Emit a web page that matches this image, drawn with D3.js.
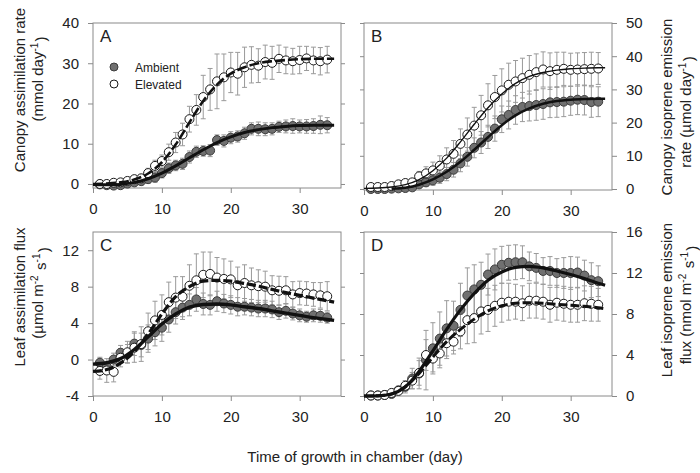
<!DOCTYPE html>
<html>
<head>
<meta charset="utf-8">
<script src="https://cdn.jsdelivr.net/npm/d3@7"></script>
<style>
  body { margin: 0; background: #fff; }
  svg { font-family: "Liberation Sans", Arial, sans-serif; }
</style>
</head>
<body>
<svg id="chart" width="700" height="473"></svg>
<script>
// ---- data ----
const days = [1,2,3,4,5,6,7,8,9,10,11,12,13,14,15,16,17,18,19,20,21,22,23,24,25,26,27,28,29,30,31,32,33,34];
const fitDays = [0,2,4,6,8,10,12,14,16,18,20,22,24,26,28,30,32,34,35];
const xTicks = [0,10,20,30];
const legendLabels = ["Ambient", "Elevated"];

// A - canopy assimilation rate (mmol day-1)
const canopyAssimAmb = [-0.1,-0.3,-0.4,-0.3,0.1,0.4,0.7,1.2,1.6,2.7,3.9,4.6,5.0,6.7,8.0,8.2,8.3,10.9,10.7,11.5,11.8,12.6,13.7,13.7,13.6,13.7,14.2,14.3,14.4,14.3,14.3,14.4,14.7,14.6];
const canopyAssimAmbSd = [0.2,0.3,0.4,0.5,0.6,0.8,0.9,1.0,1.2,1.2,1.3,1.3,1.4,1.5,1.4,1.3,1.5,1.3,1.5,1.5,1.4,1.5,1.5,1.7,1.6,1.5,1.4,1.6,1.8,1.6,1.7,1.8,2.2,1.9];
const canopyAssimElev = [0.0,0.0,0.3,0.4,0.75,1.2,1.4,2.7,4.5,5.7,7.9,10.3,12.3,16.1,18.4,21.6,23.5,25.5,26.5,27.7,27.4,29.0,29.6,29.4,30.3,30.1,31.1,30.7,30.5,30.8,31.2,30.7,30.5,30.9];
const canopyAssimElevSd = [0.3,0.4,0.6,0.7,0.8,0.9,1.0,1.2,1.4,1.5,2.0,2.5,2.8,3.2,3.8,5.4,5.2,6.8,5.8,5.0,5.3,5.0,4.5,4.2,4.2,4.1,3.4,3.3,3.2,3.4,3.0,3.3,3.4,3.3];
const canopyAssimAmbFit = [-0.1,-0.2,-0.1,0.4,1.3,2.7,4.5,6.5,8.5,10.3,11.7,12.8,13.5,14.0,14.3,14.5,14.6,14.6,14.6];
const canopyAssimElevFit = [0.0,0.1,0.4,1.1,2.6,5.4,9.8,15.3,20.6,24.7,27.4,29.0,30.0,30.5,30.8,31.0,31.1,31.1,31.1];

// B - canopy isoprene emission rate (umol day-1)
const canopyIsoAmb = [0.0,0.0,0.0,0.1,0.2,0.3,0.5,1.4,2.0,2.6,3.4,4.5,5.8,7.7,9.7,12.4,14.0,15.7,18.2,21.0,22.3,23.8,24.7,25.0,25.3,25.6,26.1,26.2,26.3,26.6,26.9,26.8,26.2,26.3];
const canopyIsoAmbSd = [0.1,0.1,0.1,0.2,0.3,0.4,0.6,0.9,1.2,1.5,1.7,2.0,2.2,2.5,2.8,3.0,3.3,3.5,3.8,4.0,4.2,4.3,4.4,4.5,4.6,4.6,4.6,4.6,4.5,4.4,4.5,4.5,4.6,4.5];
const canopyIsoElev = [0.6,0.6,0.6,0.9,1.4,1.8,2.0,3.8,4.7,5.6,7.0,8.9,10.6,13.6,16.4,19.1,22.2,25.2,27.7,29.7,31.4,32.4,33.4,34.4,35.2,36.0,35.5,35.9,36.2,35.9,36.0,36.1,36.2,36.3];
const canopyIsoElevSd = [0.3,0.3,0.4,0.5,0.7,0.8,1.0,1.5,2.0,2.5,3.0,3.5,4.0,4.5,5.0,5.5,6.0,6.5,6.5,6.5,6.5,6.3,6.0,5.8,5.5,5.3,5.5,5.3,5.0,5.0,5.0,5.0,5.0,4.8];
const canopyIsoAmbFit = [null,null,0.1,0.4,1.3,2.9,5.2,8.2,11.8,15.6,19.2,22.2,24.3,25.7,26.5,26.9,27.1,27.2,27.2];
const canopyIsoElevFit = [0.2,0.3,0.6,1.3,2.8,5.5,9.3,14.2,19.5,24.5,28.6,31.8,33.9,35.1,35.8,36.2,36.4,36.5,36.5];

// C - leaf assimilation flux (umol m-2 s-1)
const leafAssimAmb = [-0.35,-0.8,0.0,0.75,0.65,1.75,1.6,2.3,3.0,3.5,4.4,5.2,5.7,6.0,6.6,6.1,6.0,6.4,6.15,6.0,5.8,5.8,5.7,5.6,5.6,5.5,5.2,5.35,5.05,4.85,4.7,4.85,4.8,4.6];
const leafAssimAmbSd = [0.6,0.6,0.7,0.8,1.0,1.3,1.3,1.5,1.5,1.5,1.4,1.3,1.3,1.2,1.3,1.2,1.1,1.1,1.0,1.0,1.0,0.9,0.9,0.9,0.9,0.9,0.8,0.8,0.7,0.7,0.6,0.7,0.7,0.6];
const leafAssimElev = [-1.25,-1.2,-1.35,0.2,0.8,1.3,1.7,3.1,4.3,4.9,6.3,6.8,6.9,8.1,8.7,9.3,9.4,9.0,8.85,8.8,8.15,8.4,8.15,8.05,8.0,7.6,7.55,7.6,7.15,7.3,7.25,7.15,7.05,6.95];
const leafAssimElevSd = [0.9,1.3,1.1,1.0,1.2,1.6,1.9,2.0,2.1,2.2,2.2,2.3,2.2,2.3,2.9,2.5,2.4,2.2,2.2,2.0,2.0,2.0,1.9,1.8,1.7,1.6,1.6,1.5,1.4,1.3,1.3,1.3,1.4,1.6];
const leafAssimAmbFit = [-0.5,-0.35,0.1,1.1,2.5,3.9,5.0,5.75,6.05,6.1,6.0,5.8,5.6,5.35,5.1,4.85,4.6,4.4,4.3];
const leafAssimElevFit = [-1.3,-1.1,-0.4,0.9,2.8,5.0,6.9,8.0,8.6,8.7,8.6,8.35,8.05,7.7,7.35,7.05,6.75,6.45,6.3];

// D - leaf isoprene emission flux (nmol m-2 s-1)
const leafIsoAmb = [0.05,0.05,0.1,0.2,0.55,0.9,1.7,2.2,3.5,4.65,5.6,6.6,6.85,8.4,9.8,10.4,10.85,11.85,12.35,12.8,13.0,13.05,13.05,12.65,12.5,12.2,12.2,12.0,12.0,12.0,12.05,11.75,11.3,11.2];
const leafIsoAmbSd = [0.05,0.05,0.1,0.2,0.4,0.6,1.0,1.5,2.9,2.5,2.6,2.7,2.4,2.6,2.7,2.4,2.2,2.0,2.0,1.8,1.7,1.7,1.6,1.4,1.4,1.3,1.4,1.4,1.5,1.6,1.5,1.5,1.7,1.5];
const leafIsoElev = [0.05,0.05,0.1,0.3,0.5,1.0,1.5,2.25,4.0,3.65,4.15,5.15,5.3,6.3,7.4,7.6,8.25,8.4,8.8,9.1,9.2,9.2,9.05,9.3,9.3,9.2,8.9,9.1,9.0,8.9,8.9,9.05,9.0,8.9];
const leafIsoElevSd = [0.05,0.05,0.1,0.2,0.3,0.5,0.8,1.2,1.5,1.3,1.4,1.5,1.2,1.7,2.3,2.4,2.2,2.1,2.0,1.9,1.8,1.7,1.7,1.7,1.7,1.7,1.7,1.7,1.7,1.7,1.7,1.7,1.7,1.6];
const leafIsoAmbFit = [0.0,0.02,0.2,0.9,2.4,4.4,6.5,8.4,10.0,11.3,12.1,12.55,12.65,12.5,12.2,11.85,11.45,11.0,10.8];
const leafIsoElevFit = [0.0,0.02,0.2,0.9,2.2,3.8,5.3,6.5,7.5,8.3,8.8,9.05,9.1,9.05,8.95,8.85,8.75,8.6,8.5];

// ---- drawing ----
const svg = d3.select("#chart");
const frameColor = "#8a8a8a";
const barColor = "#9a9a9a";
const textColor = "#222";

function addRichText(sel, parts) {
  // parts: [text, isSup]
  parts.forEach(([t, sup]) => {
    if (sup) {
      sel.append("tspan").attr("dy", "-0.55em").attr("font-size", "10px").text(t);
      sel.append("tspan").attr("dy", "0.55em").text("\u200a");
    } else {
      sel.append("tspan").text(t);
    }
  });
}

function drawPanel(p) {
  const x = d3.scaleLinear().domain([0, 36]).range([p.left, p.left + 248]);
  const y = d3.scaleLinear().domain(p.yDomain).range([p.bottom, p.top]);
  const g = svg.append("g");
  const plain = d => String(d); // hyphen minus, like the original

  const axisOut = p.rightAxis ? d3.axisRight(y) : d3.axisLeft(y);
  const axisIn = p.rightAxis ? d3.axisRight(y) : d3.axisLeft(y);
  const xOut = x.range()[p.rightAxis ? 1 : 0];
  const xIn = x.range()[p.rightAxis ? 0 : 1];

  // main y axis with labels
  g.append("g")
    .attr("transform", `translate(${xOut},0)`)
    .call(axisOut.tickValues(p.yTicks).tickFormat(plain).tickSize(5).tickSizeOuter(0).tickPadding(9));
  // inner ticks on opposite side
  g.append("g")
    .attr("transform", `translate(${xIn},0)`)
    .call(axisIn.tickValues(p.yTicks).tickSize(-4).tickSizeOuter(0).tickFormat(""));
  // x axis
  g.append("g")
    .attr("transform", `translate(0,${p.bottom})`)
    .call(d3.axisBottom(x).tickValues(xTicks).tickFormat(plain).tickSize(5).tickSizeOuter(0).tickPadding(10));

  g.selectAll(".domain").remove();
  g.selectAll(".tick line").attr("stroke", frameColor);
  g.selectAll(".tick text").attr("font-size", "15px").attr("fill", textColor)
    .attr("font-family", "Liberation Sans, Arial, sans-serif");

  g.append("rect")
    .attr("x", x.range()[0]).attr("y", p.top)
    .attr("width", x.range()[1] - x.range()[0]).attr("height", p.bottom - p.top)
    .attr("fill", "none").attr("stroke", frameColor).attr("stroke-width", 1);

  // error bars
  p.series.forEach(s => {
    const eb = g.append("g").attr("stroke", barColor).attr("stroke-width", 1);
    days.forEach((d, i) => {
      const cx = x(d), lo = y(s.values[i] - s.sd[i]), hi = y(s.values[i] + s.sd[i]);
      eb.append("line").attr("x1", cx).attr("x2", cx).attr("y1", lo).attr("y2", hi);
      eb.append("line").attr("x1", cx - 2.5).attr("x2", cx + 2.5).attr("y1", lo).attr("y2", lo);
      eb.append("line").attr("x1", cx - 2.5).attr("x2", cx + 2.5).attr("y1", hi).attr("y2", hi);
    });
  });

  // points
  p.series.forEach(s => {
    g.append("g").selectAll("circle")
      .data(days)
      .join("circle")
      .attr("cx", d => x(d))
      .attr("cy", (d, i) => y(s.values[i]))
      .attr("r", 4.5)
      .attr("fill", s.filled ? "#707070" : "#fff")
      .attr("stroke", s.filled ? "#3c3c3c" : "#1a1a1a")
      .attr("stroke-width", 1);
  });

  // fitted curves
  const line = d3.line()
    .defined(d => d[1] !== null)
    .x(d => x(d[0])).y(d => y(d[1]))
    .curve(d3.curveMonotoneX);
  p.series.forEach(s => {
    g.append("path")
      .datum(fitDays.map((d, i) => [d, s.fit[i]]))
      .attr("d", line)
      .attr("fill", "none")
      .attr("stroke", "#111")
      .attr("stroke-width", s.lineWidth)
      .attr("stroke-dasharray", s.dash || null);
  });

  // panel letter
  g.append("text")
    .attr("x", x.range()[0] + 7).attr("y", p.top + 19)
    .attr("font-size", "17px").attr("fill", textColor)
    .text(p.letter);

  return { x, y, g };
}

drawPanel({
  letter: "A", left: 93, top: 23, bottom: 188, yDomain: [-1, 40], yTicks: [0,10,20,30,40],
  series: [
    { values: canopyAssimAmb, sd: canopyAssimAmbSd, fit: canopyAssimAmbFit, filled: true, lineWidth: 3 },
    { values: canopyAssimElev, sd: canopyAssimElevSd, fit: canopyAssimElevFit, filled: false, lineWidth: 2.6, dash: "10,3" }
  ]
});
drawPanel({
  letter: "B", left: 364, top: 23, bottom: 190, yDomain: [-0.3, 50], yTicks: [0,10,20,30,40,50], rightAxis: true,
  series: [
    { values: canopyIsoAmb, sd: canopyIsoAmbSd, fit: canopyIsoAmbFit, filled: true, lineWidth: 2.6 },
    { values: canopyIsoElev, sd: canopyIsoElevSd, fit: canopyIsoElevFit, filled: false, lineWidth: 1.4 }
  ]
});
drawPanel({
  letter: "C", left: 93, top: 232, bottom: 396, yDomain: [-4, 14], yTicks: [-4,0,4,8,12],
  series: [
    { values: leafAssimAmb, sd: leafAssimAmbSd, fit: leafAssimAmbFit, filled: true, lineWidth: 3.4 },
    { values: leafAssimElev, sd: leafAssimElevSd, fit: leafAssimElevFit, filled: false, lineWidth: 3.2, dash: "9,3" }
  ]
});
drawPanel({
  letter: "D", left: 364, top: 232, bottom: 396, yDomain: [0, 16], yTicks: [0,4,8,12,16], rightAxis: true,
  series: [
    { values: leafIsoAmb, sd: leafIsoAmbSd, fit: leafIsoAmbFit, filled: true, lineWidth: 3.2 },
    { values: leafIsoElev, sd: leafIsoElevSd, fit: leafIsoElevFit, filled: false, lineWidth: 3, dash: "9,3" }
  ]
});

// legend in panel A
const legend = svg.append("g").attr("font-size", "12px").attr("fill", textColor);
legendLabels.forEach((lab, i) => {
  const ly = 67 + i * 17;
  legend.append("circle").attr("cx", 114).attr("cy", ly).attr("r", 4)
    .attr("fill", i === 0 ? "#707070" : "#fff")
    .attr("stroke", i === 0 ? "#3c3c3c" : "#1a1a1a");
  legend.append("text").attr("x", 135).attr("y", ly + 4.5).text(lab);
});

// axis titles
function vTitle(cx, cy, parts) {
  const t = svg.append("text")
    .attr("transform", `translate(${cx},${cy}) rotate(-90)`)
    .attr("text-anchor", "middle")
    .attr("font-size", "15px").attr("fill", textColor);
  addRichText(t, parts);
}
vTitle(25, 90, [["Canopy assimilation rate"]]);
vTitle(43, 79, [["(mmol day"], ["-1", true], [")"]]);
vTitle(25, 297, [["Leaf assimilation flux"]]);
vTitle(43, 293, [["(\u00b5mol m"], ["-2", true], [" s"], ["-1", true], [")"]]);
vTitle(672, 107, [["Canopy isoprene emission"]]);
vTitle(691, 112, [["rate (\u00b5mol day"], ["-1", true], [")"]]);
vTitle(672, 300, [["Leaf isoprene emission"]]);
vTitle(691, 305, [["flux (nmol m"], ["-2", true], [" s"], ["-1", true], [")"]]);

svg.append("text")
  .attr("x", 355).attr("y", 462)
  .attr("text-anchor", "middle")
  .attr("font-size", "15px").attr("fill", textColor)
  .text("Time of growth in chamber (day)");
</script>
</body>
</html>
